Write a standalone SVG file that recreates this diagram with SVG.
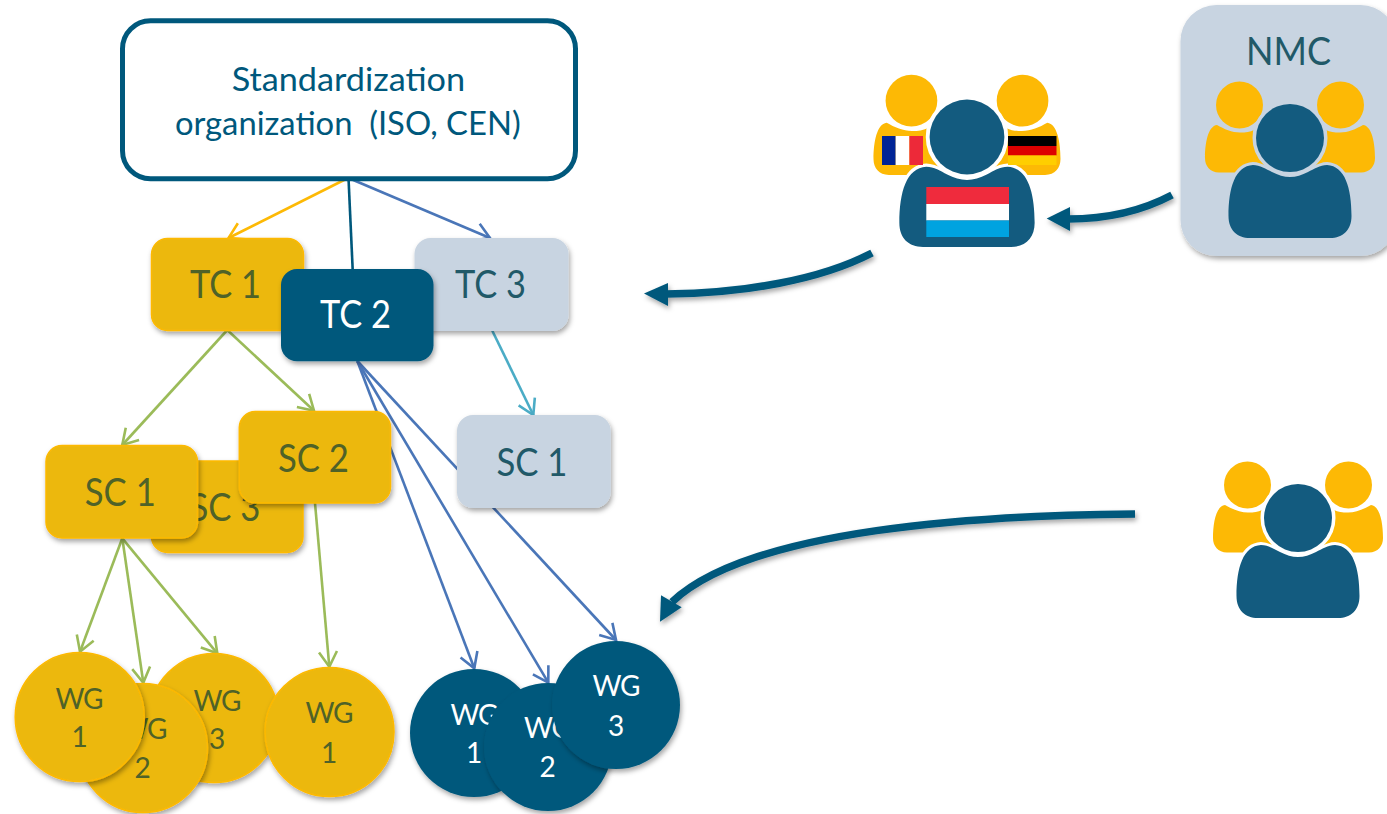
<svg xmlns="http://www.w3.org/2000/svg" xmlns:xlink="http://www.w3.org/1999/xlink" width="1387" height="814" viewBox="0 0 1387 814">
<style>
text{font-family:"Lato","Open Sans","Liberation Sans",sans-serif;text-anchor:middle}
.y{fill:#ecb80b;stroke:#fdb905;stroke-width:1.5}
.g{fill:#c8d4e1}
.d{fill:#00587c}
.ty{fill:#4f6228}
.tg{fill:#215968}
.tw{fill:#fff}
.box{font-size:38px}
.wg{font-size:28px}
.wg .l{letter-spacing:-1px}
.sh{filter:url(#shadow)}
.c{fill:none;stroke-width:2.6}
.thick{fill:none;stroke:#00587c;stroke-width:7.5}
.ah{fill:#00587c}
.iy{fill:#fdb905}
.id{fill:#135b7f;stroke:currentColor;paint-order:stroke}
</style>
<defs>
<filter id="shadow" x="-20%" y="-20%" width="140%" height="140%"><feDropShadow dx="1.5" dy="3" stdDeviation="2.5" flood-color="#000" flood-opacity=".35"/></filter>
<marker id="mG" markerUnits="userSpaceOnUse" orient="auto" refX="0" refY="0" overflow="visible" markerWidth="20" markerHeight="20"><path d="M-15 -9 L0 0 L-15 9" fill="none" stroke="#9bbb59" stroke-width="2.6"/></marker>
<marker id="mB" markerUnits="userSpaceOnUse" orient="auto" refX="0" refY="0" overflow="visible" markerWidth="20" markerHeight="20"><path d="M-15 -9 L0 0 L-15 9" fill="none" stroke="#4a76b8" stroke-width="2.6"/></marker>
<marker id="mY" markerUnits="userSpaceOnUse" orient="auto" refX="0" refY="0" overflow="visible" markerWidth="20" markerHeight="20"><path d="M-15 -9 L0 0 L-15 9" fill="none" stroke="#fdb905" stroke-width="2.6"/></marker>
<marker id="mT" markerUnits="userSpaceOnUse" orient="auto" refX="0" refY="0" overflow="visible" markerWidth="20" markerHeight="20"><path d="M-15 -9 L0 0 L-15 9" fill="none" stroke="#4bacc6" stroke-width="2.6"/></marker>
<g id="people">
<circle class="iy" cx="-50.5" cy="-33" r="23.5"/>
<circle class="iy" cx="50.5" cy="-33" r="23.5"/>
<path class="iy" d="M-71 34.5C-80 34.5 -85 28 -85 20C-85 5 -82 -12 -73 -13C-66 -9 -58 -5.5 -50 -5.5C-44 -5.5 -40 -6 -36 -8L-18 34.5Z"/>
<path class="iy" d="M71 34.5C80 34.5 85 28 85 20C85 5 82 -12 73 -13C66 -9 58 -5.5 50 -5.5C44 -5.5 40 -6 36 -8L18 34.5Z"/>
<circle class="id" cx="0" cy="0" r="34" stroke-width="7"/>
<path class="id" stroke-width="6" d="M-40 100C-53 100 -61.5 92 -61.5 78C-61.5 50 -55 28 -37 27C-30 27 -24 31 -18 34C-12 37 -6 39 0 39C6 39 12 37 18 34C24 31 30 27 37 27C55 28 61.5 50 61.5 78C61.5 92 53 100 40 100Z"/>
</g>
</defs>

<g id="connectors">
<g class="c">
<path d="M348 178L228.500 238" stroke="#fdb905" marker-end="url(#mY)"/>
<path d="M348.500 178L352.700 270" stroke="#00587c"/>
<path d="M348.500 178L490 238" stroke="#4a76b8" marker-end="url(#mB)"/>
<path d="M227.300 330L122.300 445" stroke="#9bbb59" marker-end="url(#mG)"/>
<path d="M227.300 330L314 410.700" stroke="#9bbb59" marker-end="url(#mG)"/>
<path d="M492.300 330.700L533.300 415" stroke="#4bacc6" marker-end="url(#mT)"/>
<path d="M357.300 361L474.300 668.300" stroke="#4a76b8" marker-end="url(#mB)"/>
<path d="M357.300 361L548.300 682.700" stroke="#4a76b8" marker-end="url(#mB)"/>
<path d="M357.300 361L616 640" stroke="#4a76b8" marker-end="url(#mB)"/>
<path d="M122.300 538.300L80 651.700" stroke="#9bbb59" marker-end="url(#mG)"/>
<path d="M122.300 538.300L143.300 682.700" stroke="#9bbb59" marker-end="url(#mG)"/>
<path d="M122.300 538.300L217.300 653.300" stroke="#9bbb59" marker-end="url(#mG)"/>
<path d="M315 503L329.300 666.700" stroke="#9bbb59" marker-end="url(#mG)"/>
</g>
<g class="sh"><path class="thick" d="M872 253C820 280 745 293 666 294"/><path class="ah" d="M644 293.500L668 283L668 306Z"/></g>
<g class="sh"><path class="thick" d="M1172 195C1140 212 1105 219 1068 219"/><path class="ah" d="M1046.700 218.500L1070 207L1070 231Z"/></g>
<g class="sh"><path class="thick" d="M1135 514C985 515 750 528 672 602"/><path class="ah" d="M660 621.700L661 595.300L681.700 607.300Z"/></g>
</g>

<g id="org"><rect x="122.500" y="20.700" width="453" height="158" rx="28" fill="#fff" stroke="#00587c" stroke-width="5"/>
<text x="348.400" y="91" font-size="33" fill="#00587c" textLength="233.500" lengthAdjust="spacingAndGlyphs">Standardization</text>
<text x="347.800" y="135" font-size="33" fill="#00587c" textLength="345.700" lengthAdjust="spacingAndGlyphs" xml:space="preserve">organization  (ISO, CEN)</text></g>

<g id="tc1"><rect class="y sh" x="151.500" y="238.500" width="152" height="92" rx="16"/><text class="box ty" x="225.500" y="298" textLength="71" lengthAdjust="spacingAndGlyphs">TC 1</text></g>
<g id="tc3"><rect class="g sh" x="414.500" y="238" width="154" height="93" rx="16"/><text class="box tg" x="490.500" y="298" textLength="71" lengthAdjust="spacingAndGlyphs">TC 3</text></g>
<g id="tc2"><rect class="d sh" x="281" y="269" width="152.500" height="92.300" rx="16"/><text class="box tw" x="355.500" y="328" textLength="71" lengthAdjust="spacingAndGlyphs">TC 2</text></g>

<g id="sc1b"><rect class="g sh" x="457" y="415" width="153.700" height="93" rx="16"/><text class="box tg" x="532" y="476" textLength="71" lengthAdjust="spacingAndGlyphs">SC 1</text></g>
<g id="sc3"><rect class="y sh" x="151.500" y="461" width="151.500" height="91.500" rx="16"/><text class="box ty" x="225" y="520.700" textLength="71" lengthAdjust="spacingAndGlyphs">SC 3</text></g>
<g id="sc1"><rect class="y sh" x="46" y="445.500" width="151.500" height="92.500" rx="16"/><text class="box ty" x="120.300" y="506" textLength="71" lengthAdjust="spacingAndGlyphs">SC 1</text></g>
<g id="sc2"><rect class="y sh" x="239.300" y="411.500" width="151.200" height="91.500" rx="16"/><text class="box ty" x="313.500" y="471.700" textLength="71" lengthAdjust="spacingAndGlyphs">SC 2</text></g>

<g id="wg3a"><circle class="y sh" cx="214" cy="718" r="64.500"/><text class="wg ty"><tspan class="l" x="217" y="710.700">WG</tspan><tspan x="217" y="749">3</tspan></text></g>
<g id="wg2a"><circle class="y sh" cx="143" cy="748" r="64.500"/><text class="wg ty"><tspan class="l" x="143" y="739">WG</tspan><tspan x="142.700" y="778">2</tspan></text></g>
<g id="wg1a"><circle class="y sh" cx="79.700" cy="717" r="64.500"/><text class="wg ty"><tspan class="l" x="79" y="709.300">WG</tspan><tspan x="79.700" y="746.700">1</tspan></text></g>
<g id="wg1b"><circle class="y sh" cx="329.500" cy="732" r="64.500"/><text class="wg ty"><tspan class="l" x="329" y="723">WG</tspan><tspan x="329" y="762.700">1</tspan></text></g>

<g id="wg1c"><circle class="d sh" cx="474" cy="733" r="64"/><text class="wg tw"><tspan class="l" x="474" y="725">WG</tspan><tspan x="474" y="763">1</tspan></text></g>
<g id="wg2c"><circle class="d sh" cx="548" cy="747" r="64"/><text class="wg tw"><tspan class="l" x="547.500" y="738">WG</tspan><tspan x="547.700" y="777">2</tspan></text></g>
<g id="wg3c"><circle class="d sh" cx="616" cy="705" r="64"/><text class="wg tw"><tspan class="l" x="616" y="696">WG</tspan><tspan x="616" y="736">3</tspan></text></g>

<g id="nmc"><rect class="g sh" x="1180.500" y="5" width="216" height="251" rx="36"/><text x="1288.500" y="65" font-size="39" fill="#215968" textLength="85" lengthAdjust="spacingAndGlyphs">NMC</text>
<use xlink:href="#people" href="#people" x="1290" y="138" color="#c8d4e1"/></g>

<g id="delegates"><use xlink:href="#people" href="#people" transform="translate(967 137) scale(1.1)" color="#fff"/>
<rect x="882" y="136" width="13.700" height="29" fill="#002395"/><rect x="895.700" y="136" width="13.700" height="29" fill="#fff"/><rect x="909.400" y="136" width="13.600" height="29" fill="#ed2939"/>
<rect x="1008" y="136" width="48.500" height="10" fill="#000"/><rect x="1008" y="146" width="48.500" height="9.500" fill="#dd0000"/><rect x="1008" y="155.500" width="48.500" height="9.500" fill="#ffce00"/>
<rect x="926.300" y="187" width="82.700" height="17" fill="#ef2b3d"/><rect x="926.300" y="204" width="82.700" height="16.500" fill="#fff"/><rect x="926.300" y="220.500" width="82.700" height="16.500" fill="#00a3e0"/></g>

<g id="experts"><use xlink:href="#people" href="#people" x="1298" y="518" color="#fff"/></g>
</svg>
